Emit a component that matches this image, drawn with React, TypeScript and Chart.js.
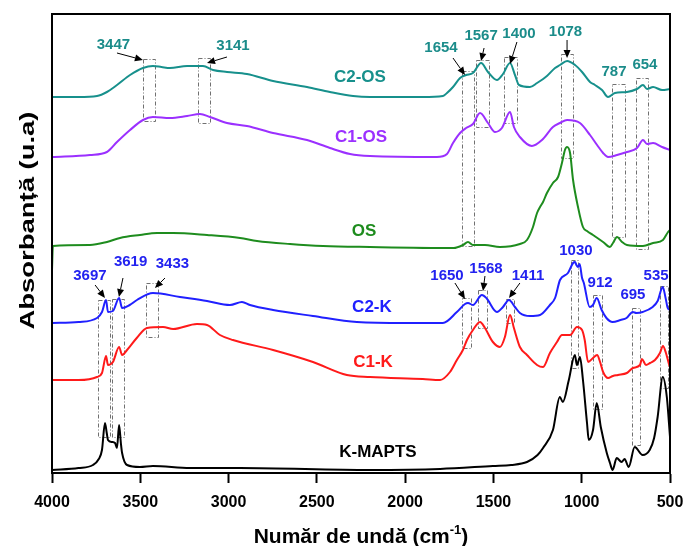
import React, { useEffect, useRef } from 'react';
import { Chart, registerables } from 'chart.js';

Chart.register(...registerables);

// ---- Spectra: [wavenumber (cm-1), absorbance (a.u., stacked offsets)] ----
const C2_OS: [number, number][] = [
  [4000, 3.76], [3850, 3.76], [3745, 3.77], [3689, 3.81], [3632, 3.88], [3558, 3.98], [3485, 4.05],
  [3428, 4.07], [3380, 4.06], [3332, 4.05], [3235, 4.07], [3145, 4.07], [3088, 4.03], [3009, 4.01],
  [2896, 3.99], [2748, 3.92], [2556, 3.86], [2426, 3.81], [2295, 3.77], [2199, 3.76], [1900, 3.76],
  [1786, 3.77], [1763, 3.80], [1729, 3.86], [1689, 3.95], [1655, 3.98], [1616, 4.00], [1570, 4.10],
  [1531, 4.01], [1480, 3.93], [1446, 3.99], [1406, 4.10], [1378, 3.98], [1355, 3.88], [1293, 3.86],
  [1253, 3.90], [1197, 3.97], [1151, 4.05], [1123, 4.08], [1083, 4.12], [1038, 4.08], [998, 4.01],
  [953, 3.91], [925, 3.88], [885, 3.83], [851, 3.76], [812, 3.80], [744, 3.81], [687, 3.84],
  [653, 3.88], [630, 3.84], [596, 3.86], [545, 3.83], [500, 3.84],
];
const C1_OS: [number, number][] = [
  [4000, 3.16], [3785, 3.18], [3689, 3.21], [3632, 3.31], [3558, 3.43], [3485, 3.53], [3428, 3.56],
  [3332, 3.55], [3235, 3.57], [3162, 3.59], [3105, 3.56], [3009, 3.50], [2896, 3.47], [2748, 3.40],
  [2556, 3.33], [2426, 3.25], [2312, 3.19], [2199, 3.17], [1820, 3.16], [1763, 3.19], [1729, 3.30],
  [1689, 3.40], [1655, 3.45], [1616, 3.49], [1576, 3.60], [1531, 3.50], [1491, 3.41], [1452, 3.45],
  [1406, 3.61], [1384, 3.46], [1350, 3.36], [1282, 3.27], [1225, 3.33], [1163, 3.46], [1123, 3.50],
  [1083, 3.53], [1010, 3.50], [953, 3.38], [913, 3.28], [879, 3.20], [851, 3.16], [800, 3.18],
  [744, 3.21], [687, 3.25], [653, 3.33], [630, 3.29], [596, 3.30], [545, 3.26], [500, 3.23],
];
const OS: [number, number][] = [
  [4000, 2.03], [3995, 2.27], [3785, 2.28], [3689, 2.31], [3615, 2.35], [3502, 2.38], [3405, 2.40],
  [3315, 2.40], [3122, 2.38], [2935, 2.35], [2839, 2.32], [2652, 2.29], [2465, 2.27], [2199, 2.26],
  [1725, 2.25], [1672, 2.28], [1644, 2.31], [1616, 2.28], [1548, 2.28], [1463, 2.26], [1350, 2.29],
  [1310, 2.33], [1276, 2.46], [1253, 2.60], [1236, 2.66], [1219, 2.71], [1197, 2.80], [1163, 2.90],
  [1134, 2.96], [1112, 3.10], [1095, 3.23], [1083, 3.26], [1066, 3.20], [1049, 2.93], [1021, 2.66],
  [993, 2.46], [970, 2.42], [936, 2.38], [879, 2.31], [840, 2.26], [823, 2.30], [800, 2.36],
  [772, 2.31], [744, 2.28], [653, 2.27], [596, 2.30], [540, 2.33], [511, 2.41], [500, 2.43],
];
const C2_K: [number, number][] = [
  [4000, 1.50], [3850, 1.51], [3745, 1.55], [3717, 1.61], [3694, 1.73], [3683, 1.61], [3655, 1.62],
  [3620, 1.75], [3603, 1.65], [3560, 1.68], [3519, 1.73], [3428, 1.80], [3275, 1.76], [3122, 1.72],
  [2992, 1.68], [2924, 1.71], [2879, 1.68], [2748, 1.63], [2522, 1.57], [2273, 1.51], [2000, 1.50],
  [1786, 1.50], [1707, 1.61], [1661, 1.69], [1644, 1.70], [1616, 1.68], [1565, 1.78], [1540, 1.75],
  [1480, 1.61], [1446, 1.66], [1412, 1.73], [1378, 1.66], [1350, 1.60], [1293, 1.57], [1236, 1.58],
  [1180, 1.68], [1151, 1.75], [1123, 1.93], [1078, 2.00], [1049, 2.10], [1038, 2.11], [1030, 2.08],
  [1021, 2.06], [1012, 2.09], [998, 1.95], [988, 1.90], [955, 1.66], [936, 1.68], [915, 1.75],
  [887, 1.63], [860, 1.55], [825, 1.51], [780, 1.53], [746, 1.55], [711, 1.61], [690, 1.60],
  [655, 1.61], [598, 1.66], [570, 1.72], [541, 1.86], [525, 1.75], [513, 1.65], [500, 1.63],
];
const C1_K: [number, number][] = [
  [4000, 0.93], [3850, 0.93], [3745, 0.96], [3717, 1.00], [3694, 1.17], [3683, 1.08], [3655, 1.11],
  [3620, 1.26], [3603, 1.18], [3575, 1.23], [3520, 1.35], [3462, 1.45], [3371, 1.46], [3314, 1.44],
  [3179, 1.49], [3122, 1.48], [3049, 1.38], [2975, 1.33], [2748, 1.23], [2522, 1.11], [2330, 0.98],
  [2199, 0.96], [1900, 0.94], [1802, 0.93], [1746, 1.01], [1707, 1.13], [1673, 1.23], [1650, 1.33],
  [1616, 1.43], [1576, 1.51], [1548, 1.45], [1503, 1.31], [1463, 1.26], [1435, 1.36], [1406, 1.58],
  [1384, 1.45], [1350, 1.26], [1310, 1.18], [1253, 1.08], [1219, 1.06], [1180, 1.20], [1140, 1.31],
  [1112, 1.38], [1066, 1.38], [1027, 1.46], [998, 1.43], [983, 1.33], [964, 1.11], [936, 1.15],
  [913, 1.18], [896, 1.11], [879, 1.01], [851, 0.95], [823, 0.97], [795, 0.98], [744, 1.00],
  [710, 1.05], [670, 1.08], [659, 1.14], [636, 1.08], [613, 1.10], [585, 1.13], [557, 1.20],
  [540, 1.27], [523, 1.20], [506, 1.09], [500, 1.06],
];
const K_MAPTS: [number, number][] = [
  [4000, 0.03], [3850, 0.05], [3768, 0.08], [3735, 0.14], [3717, 0.23], [3700, 0.50], [3690, 0.40],
  [3683, 0.33], [3660, 0.31], [3643, 0.30], [3632, 0.25], [3620, 0.48], [3610, 0.30], [3603, 0.20],
  [3575, 0.08], [3502, 0.06], [3428, 0.07], [3218, 0.05], [2935, 0.05], [2199, 0.03], [1802, 0.04],
  [1503, 0.07], [1400, 0.08], [1310, 0.11], [1250, 0.18], [1219, 0.25], [1163, 0.43], [1124, 0.76],
  [1107, 0.71], [1073, 0.93], [1039, 1.18], [1027, 1.08], [1010, 1.16], [993, 0.93], [970, 0.50],
  [960, 0.33], [936, 0.43], [915, 0.70], [892, 0.46], [858, 0.20], [840, 0.10], [825, 0.03],
  [802, 0.15], [774, 0.11], [757, 0.14], [734, 0.06], [700, 0.26], [655, 0.18], [615, 0.23],
  [590, 0.35], [570, 0.56], [541, 0.96], [518, 0.76], [500, 0.36],
];

// series names and where their labels sit (wavenumber, absorbance)
const SERIES_NAMES = ['C2-OS', 'C1-OS', 'OS', 'C2-K', 'C1-K', 'K-MAPTS'];
const SERIES_DATA = [C2_OS, C1_OS, OS, C2_K, C1_K, K_MAPTS];
const SERIES_COLORS = ['#17908c', '#9b30ff', '#1e8c1e', '#2020ff', '#ff1a1a', '#000000'];
const SERIES_LABEL_AT: [number, number][] = [
  [2256, 3.96], [2250, 3.36], [2233, 2.42], [2188, 1.66], [2182, 1.11], [2154, 0.21],
];

// x-axis ticks
const X_MIN = 500;
const X_MAX = 4000;
const X_STEP = 500;

// peak annotations (teal = OS group, blue = K group)
const OS_PEAK_TEXT = ['3447', '3141', '1654', '1567', '1400', '1078', '787', '654'];
const OS_PEAK_TEXT_AT: [number, number][] = [
  [3652, 4.28], [2975, 4.27], [1797, 4.25], [1570, 4.37], [1355, 4.39], [1092, 4.41], [817, 4.01], [642, 4.08],
];
const OS_BOXES: [number, number, number, number][] = [
  [3485, 3417, 4.14, 3.52], [3173, 3105, 4.15, 3.50], [1680, 1608, 4.02, 2.27], [1599, 1525, 4.13, 3.46],
  [1440, 1367, 4.16, 3.50], [1119, 1051, 4.19, 3.15], [829, 755, 3.89, 2.36], [693, 624, 3.95, 2.24],
];
const OS_ARROWS: [number, number, number, number][] = [
  [3632, 4.20, 3485, 4.13], [3009, 4.16, 3122, 4.10], [1729, 4.15, 1661, 3.98],
  [1553, 4.25, 1570, 4.12], [1367, 4.31, 1406, 4.09], [1083, 4.33, 1083, 4.15],
];
const K_PEAK_TEXT = ['3697', '3619', '3433', '1650', '1568', '1411', '1030', '912', '695', '535'];
const K_PEAK_TEXT_AT: [number, number][] = [
  [3785, 1.97], [3555, 2.11], [3318, 2.09], [1763, 1.97], [1542, 2.04], [1304, 1.97],
  [1033, 2.22], [896, 1.90], [710, 1.78], [579, 1.97],
];
const K_BOXES: [number, number, number, number][] = [
  [3738, 3672, 1.73, 0.36], [3659, 3592, 1.74, 0.36], [3469, 3401, 1.90, 1.36], [1678, 1627, 1.75, 1.25],
  [1587, 1536, 1.83, 1.45], [1429, 1384, 1.74, 1.50], [1062, 1019, 2.13, 1.05], [936, 885, 1.78, 0.64],
  [716, 671, 1.65, 0.28], [558, 513, 1.87, 0.85],
];
const K_ARROWS: [number, number, number, number][] = [
  [3756, 1.88, 3700, 1.75], [3598, 1.95, 3621, 1.76], [3360, 1.95, 3417, 1.85],
  [1718, 1.90, 1661, 1.74], [1548, 1.97, 1559, 1.82], [1350, 1.90, 1412, 1.75],
];

const FONT = '"Liberation Sans", Arial, sans-serif';
const OS_TEXT_COLOR = '#1b8c8a';
const K_TEXT_COLOR = '#2222f0';

const drawArrow = (ctx: CanvasRenderingContext2D, x1: number, y1: number, x2: number, y2: number) => {
  const ang = Math.atan2(y2 - y1, x2 - x1);
  const hl = 8;
  const hw = 3.5;
  const bx = x2 - hl * Math.cos(ang);
  const by = y2 - hl * Math.sin(ang);
  ctx.beginPath();
  ctx.moveTo(x1, y1);
  ctx.lineTo(bx, by);
  ctx.stroke();
  ctx.beginPath();
  ctx.moveTo(x2, y2);
  ctx.lineTo(bx + hw * Math.sin(ang), by - hw * Math.cos(ang));
  ctx.lineTo(bx - hw * Math.sin(ang), by + hw * Math.cos(ang));
  ctx.closePath();
  ctx.fill();
};

const annotationPlugin = {
  id: 'ftirAnnotations',
  beforeDatasetsDraw(chart: any) {
    const { ctx, scales } = chart;
    const x = scales.x;
    const y = scales.y;
    ctx.save();
    ctx.strokeStyle = '#707070';
    ctx.lineWidth = 1;
    ctx.setLineDash([4, 2, 1, 2]);
    for (const [w1, w2, a1, a2] of [...OS_BOXES, ...K_BOXES]) {
      const px1 = Math.round(x.getPixelForValue(w1)) + 0.5;
      const px2 = Math.round(x.getPixelForValue(w2)) + 0.5;
      const py1 = Math.round(y.getPixelForValue(a1)) + 0.5;
      const py2 = Math.round(y.getPixelForValue(a2)) + 0.5;
      ctx.strokeRect(px1, py1, px2 - px1, py2 - py1);
    }
    ctx.restore();
  },
  afterDatasetsDraw(chart: any) {
    const { ctx, scales, chartArea } = chart;
    const x = scales.x;
    const y = scales.y;
    ctx.save();
    // arrows
    ctx.strokeStyle = '#000';
    ctx.fillStyle = '#000';
    ctx.lineWidth = 1;
    for (const [w1, a1, w2, a2] of [...OS_ARROWS, ...K_ARROWS]) {
      drawArrow(ctx, x.getPixelForValue(w1), y.getPixelForValue(a1), x.getPixelForValue(w2), y.getPixelForValue(a2));
    }
    // peak labels
    ctx.font = `bold 15px ${FONT}`;
    ctx.textAlign = 'center';
    ctx.textBaseline = 'middle';
    ctx.fillStyle = OS_TEXT_COLOR;
    OS_PEAK_TEXT.forEach((t, i) => {
      const [w, a] = OS_PEAK_TEXT_AT[i];
      ctx.fillText(t, x.getPixelForValue(w), y.getPixelForValue(a));
    });
    ctx.fillStyle = K_TEXT_COLOR;
    K_PEAK_TEXT.forEach((t, i) => {
      const [w, a] = K_PEAK_TEXT_AT[i];
      ctx.fillText(t, x.getPixelForValue(w), y.getPixelForValue(a));
    });
    // series labels
    ctx.font = `bold 17px ${FONT}`;
    SERIES_NAMES.forEach((n, i) => {
      const [w, a] = SERIES_LABEL_AT[i];
      ctx.fillStyle = SERIES_COLORS[i];
      ctx.fillText(n, x.getPixelForValue(w), y.getPixelForValue(a));
    });
    // frame
    ctx.strokeStyle = '#000';
    ctx.lineWidth = 2;
    ctx.strokeRect(chartArea.left, chartArea.top, chartArea.right - chartArea.left, chartArea.bottom - chartArea.top);
    // x title with superscript
    ctx.fillStyle = '#000';
    ctx.textAlign = 'left';
    ctx.textBaseline = 'alphabetic';
    const big = `bold 21px ${FONT}`;
    const small = `bold 13px ${FONT}`;
    const p1 = 'Număr de undă (cm';
    const p2 = '-1';
    const p3 = ')';
    ctx.font = big;
    const w1 = ctx.measureText(p1).width;
    const w3 = ctx.measureText(p3).width;
    ctx.font = small;
    const w2 = ctx.measureText(p2).width;
    const cx = (chartArea.left + chartArea.right) / 2;
    const total = w1 + w2 + w3;
    let sx = cx - total / 2;
    const base = chart.height - 3;
    ctx.font = big;
    ctx.fillText(p1, sx, base);
    sx += w1;
    ctx.font = small;
    ctx.fillText(p2, sx, base - 9);
    sx += w2;
    ctx.font = big;
    ctx.fillText(p3, sx, base);
    // y title
    const ytxt = 'Absorbanță (u.a)';
    ctx.font = big;
    const wy = ctx.measureText(ytxt).width;
    const yc = chartArea.top + (chartArea.bottom - chartArea.top) * 0.45;
    ctx.translate(28, yc);
    ctx.rotate(-Math.PI / 2);
    ctx.scale(218 / wy, 1);
    ctx.textAlign = 'center';
    ctx.textBaseline = 'middle';
    ctx.fillText(ytxt, 0, 0);
    ctx.restore();
  },
};

export default function App() {
  const ref = useRef<HTMLCanvasElement>(null);
  useEffect(() => {
    if (!ref.current) return;
    const chart = new Chart(ref.current, {
      type: 'line',
      data: {
        datasets: SERIES_DATA.map((d, i) => ({
          label: SERIES_NAMES[i],
          data: d.map(([w, a]) => ({ x: w, y: a })),
          borderColor: SERIES_COLORS[i],
          backgroundColor: SERIES_COLORS[i],
          borderWidth: 2,
          pointRadius: 0,
          cubicInterpolationMode: 'monotone' as const,
          fill: false,
        })),
      },
      options: {
        responsive: false,
        animation: false,
        layout: { padding: { top: 14, right: 15, left: 0, bottom: 0 } },
        plugins: { legend: { display: false }, tooltip: { enabled: false } },
        scales: {
          x: {
            type: 'linear',
            reverse: true,
            min: X_MIN,
            max: X_MAX,
            ticks: {
              stepSize: X_STEP,
              autoSkip: false,
              maxRotation: 0,
              padding: 10,
              color: '#000',
              font: { family: FONT, weight: 'bold', size: 16 },
              callback: (v: any) => String(v),
            },
            grid: {
              display: true,
              drawOnChartArea: false,
              drawTicks: true,
              tickLength: 10,
              tickWidth: 2,
              tickColor: '#000',
            },
            border: { display: true, color: '#000', width: 2 },
            afterFit: (s: any) => {
              s.height = 73;
              s.paddingLeft = 0;
              s.paddingRight = 0;
            },
          },
          y: {
            min: 0,
            max: 4.59,
            ticks: { display: false },
            grid: { display: false },
            border: { display: false },
            afterFit: (s: any) => {
              s.width = 52;
            },
          },
        },
      },
      plugins: [annotationPlugin],
    });
    return () => chart.destroy();
  }, []);
  return (
    <div style={{ position: 'fixed', left: 0, top: 0, width: 685, height: 546, background: '#fff' }}>
      <canvas ref={ref} width={685} height={546} style={{ width: 685, height: 546, display: 'block' }} />
    </div>
  );
}
